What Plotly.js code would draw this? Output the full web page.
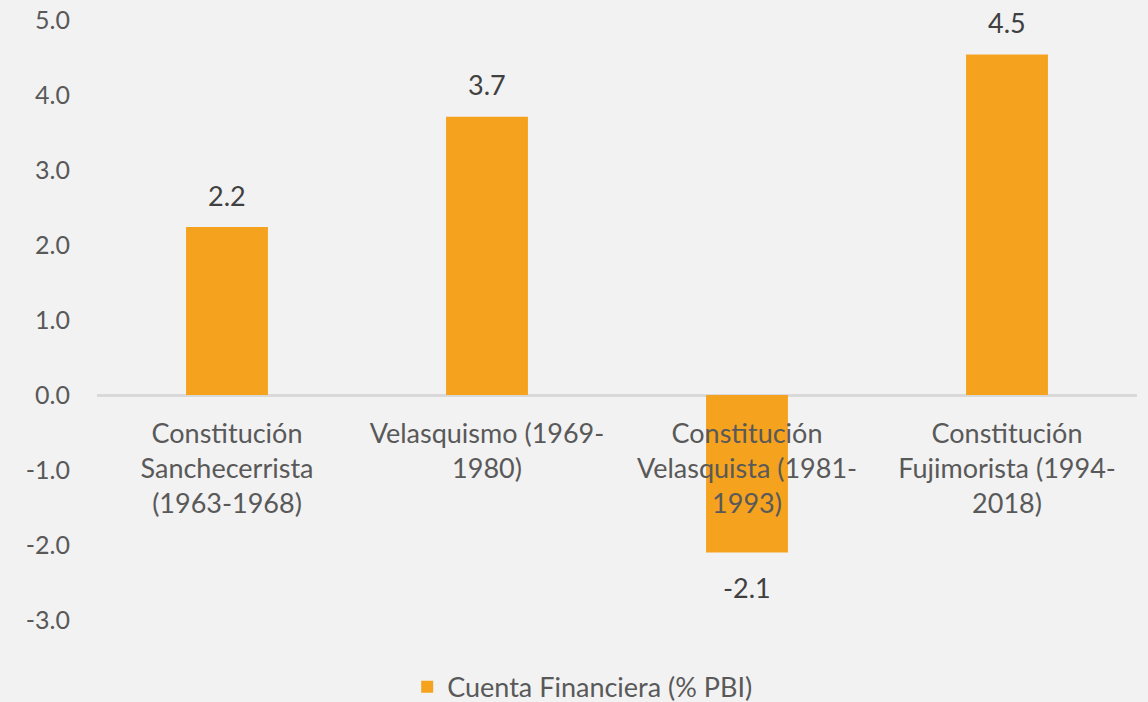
<!DOCTYPE html>
<html>
<head>
<meta charset="utf-8">
<script src="https://cdn.plot.ly/plotly-3.0.1.min.js"></script>
<style>html,body{margin:0;padding:0;background:#f2f2f2;}#chart{width:1148px;height:702px;}</style>
</head>
<body>
<div id="chart"></div>
<script>
const categories = [
  "Constitución<br>Sanchecerrista<br>(1963-1968)",
  "Velasquismo (1969-<br>1980)",
  "Constitución<br>Velasquista (1981-<br>1993)",
  "Constitución<br>Fujimorista (1994-<br>2018)"
];
const values = [2.24, 3.71, -2.1, 4.54];
const valueLabels = ["2.2", "3.7", "-2.1", "4.5"];
const seriesName = "Cuenta Financiera (% PBI)";
const yTicks = [-3, -2, -1, 0, 1, 2, 3, 4, 5];
const yTickLabels = ["-3.0", "-2.0", "-1.0", "0.0", "1.0", "2.0", "3.0", "4.0", "5.0"];

const FONT = "Lato, 'Open Sans', sans-serif";
const TEXT = "#595959";
const BAR = "#F5A31E";

const trace = {
  type: "bar",
  x: categories,
  y: values,
  name: seriesName,
  marker: {color: BAR},
  showlegend: true,
  hoverinfo: "skip"
};

const annotations = categories.map((c, i) => ({
  x: c, y: values[i], xref: "x", yref: "y",
  text: valueLabels[i],
  showarrow: false,
  yanchor: "middle",
  yshift: values[i] >= 0 ? 32 : -35,
  font: {family: FONT, size: 27, color: "#404040"}
}));

const layout = {
  width: 1148, height: 702,
  paper_bgcolor: "#f2f2f2", plot_bgcolor: "#f2f2f2",
  margin: {l: 97, r: 11, t: 20, b: 82, pad: 0, autoexpand: false},
  font: {family: FONT, color: TEXT, size: 25},
  bargap: 0.685,
  xaxis: {
    type: "category",
    anchor: "free", position: 0.375,
    automargin: false,
    showline: false, ticks: "", showgrid: false, zeroline: false,
    tickfont: {family: FONT, size: 27, color: TEXT},
    ticklabelstandoff: 20
  },
  yaxis: {
    range: [-3, 5],
    automargin: false,
    tickvals: yTicks,
    ticktext: yTickLabels,
    showgrid: false, showline: false, ticks: "",
    zeroline: true, zerolinecolor: "#d9d9d9", zerolinewidth: 3,
    tickfont: {family: FONT, size: 25, color: TEXT},
    ticklabelstandoff: 26
  },
  legend: {
    orientation: "h", x: 0.467, xanchor: "center", y: -0.112, yanchor: "middle",
    font: {family: FONT, size: 27, color: TEXT},
    bgcolor: "rgba(0,0,0,0)"
  },
  annotations: annotations
};

Plotly.newPlot("chart", [trace], layout, {displayModeBar: false, staticPlot: true});
</script>
</body>
</html>
